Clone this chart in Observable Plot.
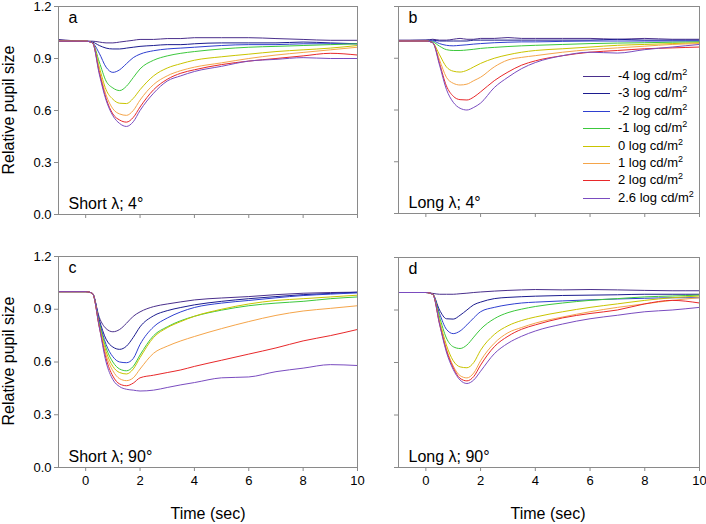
<!DOCTYPE html>
<html>
<head>
<meta charset="utf-8">
<script src="https://cdn.jsdelivr.net/npm/d3@7"></script>
<script src="https://cdn.jsdelivr.net/npm/@observablehq/plot@0.6"></script>
<style>
  html, body { margin: 0; padding: 0; background: #fff; }
  #fig { position: relative; width: 706px; height: 524px; font-family: "Liberation Sans", Arial, sans-serif; color: #000; }
  .panel { position: absolute; }
  .panel svg { overflow: visible; }
  .ytitle { position: absolute; font-size: 16px; white-space: nowrap; transform: translate(-50%, -50%) rotate(-90deg); }
  .xtitle { position: absolute; font-size: 16px; white-space: nowrap; transform: translate(-50%, -50%); }
  .leg { position: absolute; font-size: 13px; white-space: nowrap; }
  .leg sup { font-size: 9px; vertical-align: 5px; line-height: 0; }
  .sw { position: absolute; height: 0; width: 27px; border-top: 1px solid; }
</style>
</head>
<body>
<div id="fig"></div>
<script>
// ---- data ----
const times = [-1, 0, 0.25, 0.5, 0.75, 1, 1.25, 1.5, 1.75, 2, 2.5, 3, 3.5, 4, 5, 6, 7, 8, 9, 10];
const levels = ["-4", "-3", "-2", "-1", "0", "1", "2", "2.6"];
const levelColors = ["#4a2f8c", "#1c1c8f", "#2f3fd0", "#3cc83c", "#c9c400", "#f5a54a", "#e8282a", "#7a4cc0"];
const yTicks = [0, 0.3, 0.6, 0.9, 1.2];
const xTicks = [0, 2, 4, 6, 8, 10];

// Panel a: Short λ; 4°  (rows in order of levels)
const panelA = [
  [1.01, 1.0, 1.0, 0.995, 0.99, 0.99, 0.995, 1.0, 1.005, 1.01, 1.01, 1.015, 1.015, 1.02, 1.02, 1.02, 1.015, 1.01, 1.005, 1.005],
  [1.0, 1.0, 0.995, 0.975, 0.96, 0.955, 0.955, 0.96, 0.965, 0.97, 0.975, 0.98, 0.98, 0.985, 0.99, 0.99, 0.99, 0.995, 0.99, 0.985],
  [1.0, 1.0, 0.99, 0.93, 0.85, 0.82, 0.835, 0.87, 0.905, 0.925, 0.945, 0.955, 0.96, 0.965, 0.975, 0.98, 0.98, 0.985, 0.985, 0.985],
  [1.0, 1.0, 0.99, 0.88, 0.77, 0.73, 0.715, 0.74, 0.79, 0.84, 0.89, 0.915, 0.93, 0.94, 0.955, 0.965, 0.97, 0.975, 0.98, 0.985],
  [1.0, 1.0, 0.99, 0.85, 0.72, 0.665, 0.642, 0.64, 0.67, 0.72, 0.8, 0.845, 0.87, 0.89, 0.91, 0.925, 0.94, 0.95, 0.96, 0.975],
  [1.0, 1.0, 0.99, 0.83, 0.69, 0.61, 0.58, 0.572, 0.6, 0.66, 0.75, 0.8, 0.83, 0.85, 0.875, 0.9, 0.92, 0.935, 0.95, 0.965],
  [1.0, 1.0, 0.99, 0.82, 0.67, 0.58, 0.545, 0.533, 0.56, 0.62, 0.72, 0.78, 0.815, 0.835, 0.865, 0.885, 0.9, 0.915, 0.93, 0.92],
  [1.0, 1.0, 0.99, 0.81, 0.66, 0.57, 0.525, 0.508, 0.535, 0.6, 0.7, 0.77, 0.8, 0.825, 0.855, 0.885, 0.895, 0.905, 0.9, 0.9]
];
// Panel b: Long λ; 4°
const panelB = [
  [1.005, 1.005, 1.01, 1.005, 1.005, 1.01, 1.015, 1.01, 1.01, 1.015, 1.015, 1.02, 1.015, 1.015, 1.015, 1.015, 1.01, 1.015, 1.01, 1.01],
  [1.0, 1.005, 1.005, 1.0, 1.0, 1.0, 1.0, 1.0, 1.005, 1.005, 1.005, 1.005, 1.005, 1.005, 1.005, 1.005, 1.01, 1.005, 1.005, 1.005],
  [1.0, 1.0, 1.0, 0.985, 0.975, 0.972, 0.975, 0.978, 0.982, 0.985, 0.99, 0.993, 0.995, 0.995, 0.998, 1.0, 1.0, 1.0, 1.0, 1.0],
  [1.0, 1.0, 0.995, 0.97, 0.95, 0.945, 0.945, 0.948, 0.952, 0.957, 0.963, 0.968, 0.972, 0.975, 0.98, 0.985, 0.988, 0.99, 0.993, 0.995],
  [1.0, 1.0, 0.99, 0.92, 0.85, 0.825, 0.82, 0.83, 0.85, 0.87, 0.9, 0.92, 0.935, 0.945, 0.955, 0.965, 0.975, 0.98, 0.985, 0.99],
  [1.0, 1.0, 0.99, 0.89, 0.79, 0.755, 0.745, 0.75, 0.77, 0.79, 0.85, 0.89, 0.905, 0.915, 0.935, 0.95, 0.96, 0.97, 0.98, 0.985],
  [1.0, 1.0, 0.99, 0.87, 0.74, 0.68, 0.66, 0.658, 0.675, 0.705, 0.77, 0.82, 0.86, 0.885, 0.915, 0.935, 0.945, 0.955, 0.96, 0.965],
  [1.0, 1.0, 0.99, 0.86, 0.72, 0.645, 0.61, 0.6, 0.615, 0.64, 0.73, 0.79, 0.84, 0.875, 0.915, 0.935, 0.93, 0.95, 0.965, 0.98]
];
// Panel c: Short λ; 90°
const panelC = [
  [1.0, 1.0, 0.99, 0.854, 0.79, 0.772, 0.785, 0.82, 0.86, 0.885, 0.915, 0.93, 0.942, 0.953, 0.964, 0.972, 0.983, 0.991, 0.995, 0.997],
  [1.0, 1.0, 0.99, 0.84, 0.73, 0.685, 0.672, 0.69, 0.74, 0.8, 0.863, 0.892, 0.91, 0.925, 0.945, 0.96, 0.972, 0.983, 0.99, 0.997],
  [1.0, 1.0, 0.99, 0.83, 0.7, 0.63, 0.6, 0.596, 0.62, 0.7, 0.8, 0.85, 0.885, 0.91, 0.935, 0.95, 0.965, 0.978, 0.986, 0.993],
  [1.0, 1.0, 0.99, 0.82, 0.68, 0.6, 0.56, 0.55, 0.575, 0.64, 0.75, 0.8, 0.835, 0.86, 0.895, 0.92, 0.935, 0.945, 0.96, 0.97],
  [1.0, 1.0, 0.99, 0.81, 0.66, 0.575, 0.54, 0.532, 0.56, 0.625, 0.74, 0.795, 0.83, 0.86, 0.9, 0.93, 0.95, 0.96, 0.97, 0.98],
  [1.0, 1.0, 0.99, 0.8, 0.64, 0.55, 0.505, 0.494, 0.51, 0.56, 0.65, 0.69, 0.72, 0.745, 0.79, 0.83, 0.865, 0.89, 0.905, 0.92],
  [1.0, 1.0, 0.99, 0.8, 0.62, 0.52, 0.475, 0.465, 0.48, 0.51, 0.525, 0.54, 0.555, 0.575, 0.61, 0.645, 0.68, 0.72, 0.75, 0.785],
  [1.0, 1.0, 0.99, 0.8, 0.6, 0.5, 0.46, 0.445, 0.44, 0.435, 0.44, 0.455, 0.47, 0.483, 0.51, 0.515, 0.545, 0.565, 0.585, 0.58]
];
// Panel d: Long λ; 90°
const panelD = [
  [1.0, 1.0, 0.995, 0.99, 0.99, 0.99, 0.993, 0.996, 1.0, 1.003, 1.008, 1.012, 1.015, 1.017, 1.015, 1.017, 1.015, 1.012, 1.01, 1.01],
  [1.0, 1.0, 0.99, 0.9, 0.85, 0.848, 0.87, 0.9, 0.93, 0.945, 0.965, 0.972, 0.976, 0.979, 0.983, 0.985, 0.987, 0.99, 0.99, 0.99],
  [1.0, 1.0, 0.99, 0.88, 0.79, 0.765, 0.78, 0.815, 0.855, 0.89, 0.915, 0.93, 0.94, 0.945, 0.952, 0.958, 0.963, 0.967, 0.97, 0.97],
  [1.0, 1.0, 0.99, 0.86, 0.74, 0.69, 0.68, 0.7, 0.745, 0.79, 0.85, 0.885, 0.905, 0.92, 0.94, 0.955, 0.965, 0.975, 0.98, 0.985],
  [1.0, 1.0, 0.99, 0.84, 0.7, 0.61, 0.575, 0.57, 0.6, 0.67, 0.76, 0.81, 0.84, 0.86, 0.89, 0.915, 0.935, 0.955, 0.97, 0.98],
  [1.0, 1.0, 0.99, 0.83, 0.68, 0.58, 0.525, 0.512, 0.54, 0.61, 0.71, 0.77, 0.8, 0.825, 0.86, 0.89, 0.915, 0.935, 0.955, 0.97],
  [1.0, 1.0, 0.99, 0.82, 0.67, 0.57, 0.51, 0.495, 0.52, 0.585, 0.69, 0.75, 0.79, 0.815, 0.855, 0.88, 0.9, 0.935, 0.955, 0.94],
  [1.0, 1.0, 0.99, 0.82, 0.66, 0.56, 0.5, 0.48, 0.5, 0.55, 0.65, 0.71, 0.75, 0.78, 0.82, 0.85, 0.87, 0.89, 0.9, 0.915]
];

const panels = [
  {rows: panelA, letter: "a", title: "Short λ; 4°",  left: 0,   top: 0,   width: 375, height: 250, mb: 36, mt: 6, ml: 58, mr: 18, xLabels: false, yLabels: true},
  {rows: panelB, letter: "b", title: "Long λ; 4°",   left: 340, top: 0,   width: 366, height: 250, mb: 37, mt: 6, ml: 58, mr: 7,  xLabels: false, yLabels: false},
  {rows: panelC, letter: "c", title: "Short λ; 90°", left: 0,   top: 250, width: 375, height: 274, mb: 57, mt: 6, ml: 58, mr: 18, xLabels: true,  yLabels: true},
  {rows: panelD, letter: "d", title: "Long λ; 90°",  left: 340, top: 250, width: 366, height: 274, mb: 57, mt: 7, ml: 58, mr: 7,  xLabels: true,  yLabels: false}
];

const fig = document.getElementById("fig");
const frameColor = "#8a8a8a";

for (const p of panels) {
  const data = [];
  p.rows.forEach((row, i) => row.forEach((v, j) => data.push({t: times[j], v, level: levels[i]})));
  const chart = Plot.plot({
    width: p.width, height: p.height,
    marginLeft: p.ml, marginRight: p.mr, marginTop: p.mt, marginBottom: p.mb,
    style: {fontFamily: '"Liberation Sans", Arial, sans-serif', fontSize: "13px", color: "#000", background: "transparent", overflow: "visible"},
    x: {domain: [-1, 10]},
    y: {domain: [0, 1.2]},
    color: {domain: levels, range: levelColors},
    marks: [
      Plot.axisX({ticks: xTicks, tickSize: 4, tickPadding: 4, stroke: frameColor, fill: "#000",
                  tickFormat: p.xLabels ? (d => String(d)) : (() => ""), label: null}),
      Plot.axisY({ticks: yTicks, tickSize: 4, tickPadding: 3, stroke: frameColor, fill: "#000",
                  tickFormat: p.yLabels ? d3.format(".1f") : (() => ""), label: null}),
      Plot.line(data, {x: "t", y: "v", z: "level", stroke: "level", strokeWidth: 1, curve: "monotone-x"}),
      Plot.frame({stroke: frameColor, strokeWidth: 1}),
      Plot.text([p.letter], {text: d => d, frameAnchor: "top-left", dx: 10, dy: 5, lineAnchor: "top", fontSize: 16, fill: "#000"}),
      Plot.text([p.title], {text: d => d, frameAnchor: "bottom-left", dx: 10, dy: -6, lineAnchor: "bottom", fontSize: 16, fill: "#000"})
    ]
  });
  const wrap = document.createElement("div");
  wrap.className = "panel";
  wrap.style.left = p.left + "px";
  wrap.style.top = p.top + "px";
  wrap.appendChild(chart);
  fig.appendChild(wrap);
}

// axis titles
function addTitle(cls, text, x, y) {
  const d = document.createElement("div");
  d.className = cls; d.textContent = text;
  d.style.left = x + "px"; d.style.top = y + "px";
  fig.appendChild(d);
}
addTitle("ytitle", "Relative pupil size", 9, 110);
addTitle("ytitle", "Relative pupil size", 9, 361);
addTitle("xtitle", "Time (sec)", 208, 514);
addTitle("xtitle", "Time (sec)", 548, 514);

// legend (inside panel b)
levels.forEach((lv, i) => {
  const cy = 76 + i * 17.4;
  const sw = document.createElement("div");
  sw.className = "sw";
  sw.style.left = "583px"; sw.style.top = cy + "px"; sw.style.borderTopColor = levelColors[i];
  fig.appendChild(sw);
  const t = document.createElement("div");
  t.className = "leg";
  t.style.left = "618px"; t.style.top = (cy - 8) + "px";
  t.innerHTML = lv + " log cd/m<sup>2</sup>";
  fig.appendChild(t);
});
</script>
</body>
</html>
